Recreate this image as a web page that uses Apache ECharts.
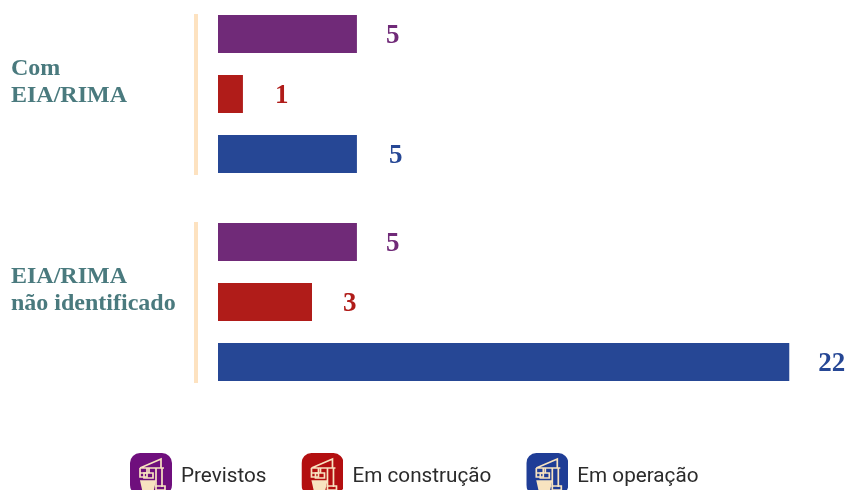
<!DOCTYPE html>
<html>
<head>
<meta charset="utf-8">
<style>
  html, body { margin: 0; padding: 0; background: #fff; }
  #chart { width: 849px; height: 490px; overflow: hidden; }
</style>
</head>
<body>
<div id="chart"></div>
<script src="https://cdn.jsdelivr.net/npm/echarts@6/dist/echarts.min.js"></script>
<script>
var categories = ['Com\nEIA/RIMA', 'EIA/RIMA\nnão identificado'];
var seriesNames = ['Previstos', 'Em construção', 'Em operação'];

// printed numbers
var previstosLabels = [5, 5];
var construcaoLabels = [1, 3];
var operacaoLabels = [5, 22];

// bar lengths as drawn in the picture (the source bars are not quite proportional to their numbers)
var previstosLengths = [5.35, 5.35];
var construcaoLengths = [0.96, 3.62];
var operacaoLengths = [5.35, 22];

var colors = ['#702a78', '#b01c19', '#264795'];
var iconColors = ['#6f0f7d', '#b30f10', '#1f3d96'];
var serif = '"Liberation Serif", serif';

// gap between bar end and its number, per series
var labelGaps = [[29, 29], [32, 31], [32, 29]];

function craneIcon(bg) {
  var svg = '<svg xmlns="http://www.w3.org/2000/svg" width="42" height="42" viewBox="0 0 42 42">' +
    '<rect width="42" height="42" rx="10" fill="' + bg + '"/>' +
    '<g fill="none" stroke="#f8e3c0" stroke-width="1.7">' +
    '<path d="M10 15 L31 6 V15 M10 15 H34 M10 15 V24 H17 V15 M10 20 H17"/>' +
    '<path d="M26 15 V34 M32 15 V34 M19 15 V20"/>' +
    '<path d="M14 20 H23 V25 H14 Z"/>' +
    '<path d="M11 28 H25 L23 37 H13 Z" fill="#f8e3c0"/>' +
    '<path d="M26 33 H35 V37 H26 Z"/>' +
    '</g></svg>';
  return 'image://data:image/svg+xml;charset=utf-8,' + encodeURIComponent(svg);
}

function barSeries(i, lengths, labels) {
  return {
    name: seriesNames[i],
    type: 'bar',
    barWidth: 38,
    barGap: '57.9%',
    itemStyle: { color: colors[i] },
    data: lengths.map(function (v, k) {
      return {
        value: v,
        label: {
          show: true,
          position: 'right',
          distance: labelGaps[i][k],
          offset: [0, 2.5],
          formatter: String(labels[k]),
          color: colors[i],
          fontFamily: serif,
          fontWeight: 'bold',
          fontSize: 27
        }
      };
    })
  };
}

var chart = echarts.init(document.getElementById('chart'));
chart.setOption({
  animation: false,
  backgroundColor: '#fff',
  grid: { left: 218, right: 0, top: -10, height: 416, outerBoundsMode: 'none' },
  legend: {
    left: 130,
    top: 453,
    padding: 0,
    itemWidth: 42,
    itemHeight: 42,
    itemGap: 35,
    selectedMode: false,
    formatter: function (name) { return '{t|' + name + '}'; },
    textStyle: {
      rich: {
        t: { fontFamily: 'Roboto', fontSize: 20.7, color: '#2b2b2b', padding: [6, 0, 0, 4] }
      }
    },
    data: seriesNames.map(function (n, i) {
      return { name: n, icon: craneIcon(iconColors[i]) };
    })
  },
  xAxis: { type: 'value', min: 0, max: 24.3, show: false },
  yAxis: {
    type: 'category',
    inverse: true,
    data: categories,
    axisLine: { show: false },
    axisTick: { show: false },
    axisLabel: {
      align: 'left',
      margin: 207,
      // blank last line lifts the two real lines above the group's middle
      formatter: function (v) {
        return v.split('\n').map(function (l) { return '{a|' + l + '}'; }).join('\n') + '\n{s| }';
      },
      rich: {
        a: { fontFamily: serif, fontWeight: 'bold', fontSize: 24, lineHeight: 27, color: '#4a7a7e' },
        s: { fontSize: 10, lineHeight: 24 }
      }
    }
  },
  series: [
    barSeries(0, previstosLengths, previstosLabels),
    barSeries(1, construcaoLengths, construcaoLabels),
    barSeries(2, operacaoLengths, operacaoLabels),
    {
      // peach bracket next to each group
      type: 'custom',
      silent: true,
      clip: false,
      legendHoverLink: false,
      data: [[0, 0], [0, 1]],
      encode: { x: 0, y: 1 },
      renderItem: function (params, api) {
        var p = api.coord([0, api.value(1)]);
        return {
          type: 'rect',
          shape: { x: p[0] - 24, y: p[1] - 80, width: 4, height: 161 },
          style: { fill: '#fde2c0' }
        };
      }
    }
  ]
});
</script>
</body>
</html>
